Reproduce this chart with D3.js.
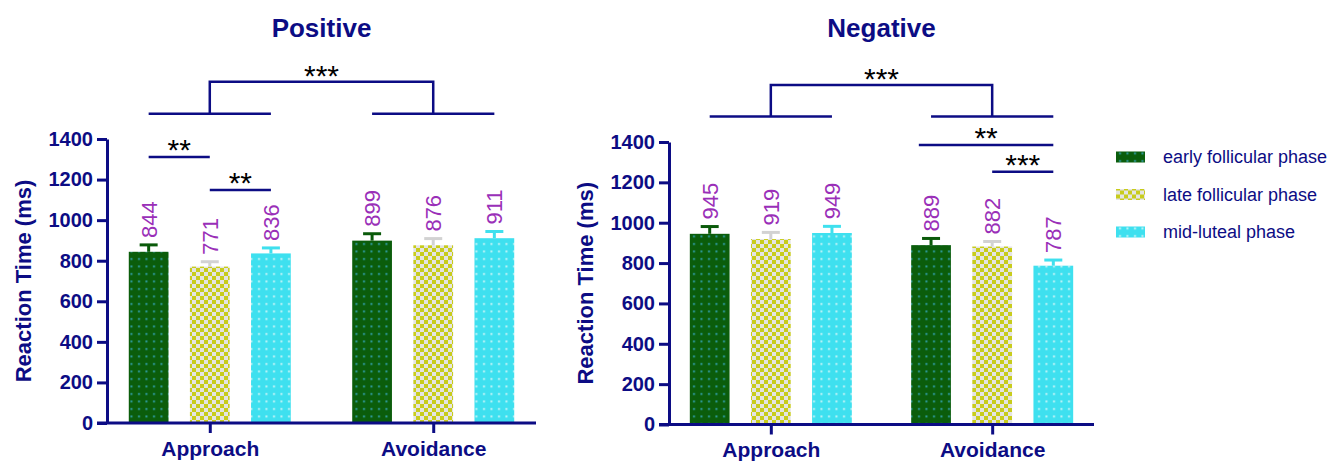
<!DOCTYPE html>
<html lang="en">
<head>
<meta charset="UTF-8">
<script src="https://d3js.org/d3.v7.min.js"></script>
<style>
  body { margin: 0; background: #fff; }
  svg { display: block; font-family: "Liberation Sans", Arial, sans-serif; }
</style>
</head>
<body>
<div id="chart"></div>
<script>
// data
const phases = ["early follicular phase", "late follicular phase", "mid-luteal phase"];
const conditions = ["Approach", "Avoidance"];
const yTicks = [0, 200, 400, 600, 800, 1000, 1200, 1400];

const positiveMeans = [[844, 771, 836], [899, 876, 911]];
const positiveErr   = [[34, 24, 27], [34, 33, 33]];
const negativeMeans = [[945, 919, 949], [889, 882, 787]];
const negativeErr   = [[36, 33, 33], [33, 25, 28]];

// significance brackets: from/to = [condition, phase position], level in ms
const positivePairs = [
  { from: [0, 0], to: [0, 1], level: 1311, label: "**" },
  { from: [0, 1], to: [0, 2], level: 1148, label: "**" }
];
const positiveMain = { level: 1524, top: 1682, label: "***" };
const negativePairs = [
  { from: [1, -0.2], to: [1, 2], level: 1385, label: "**" },
  { from: [1, 1], to: [1, 2], level: 1253, label: "***" }
];
const negativeMain = { level: 1526, top: 1683, label: "***" };

const navy = "#0c0c84";
const labelColor = "#9a2fb8";
const errColors = ["#0a5a0a", "#d2d2d2", "#3fe0ee"];
const patternIds = ["pat-early", "pat-late", "pat-mid"];

const W = 1335, H = 462;
const svg = d3.select("#chart").append("svg")
  .attr("width", W).attr("height", H);

// fill patterns
const defs = svg.append("defs");
const pEarly = defs.append("pattern").attr("id", "pat-early")
  .attr("patternUnits", "userSpaceOnUse").attr("width", 7.5).attr("height", 7.5);
pEarly.append("rect").attr("width", 7.5).attr("height", 7.5).attr("fill", "#0b5d0b");
pEarly.append("rect").attr("x", 3).attr("y", 3).attr("width", 2).attr("height", 2).attr("fill", "#2f9a9e");

const pLate = defs.append("pattern").attr("id", "pat-late")
  .attr("patternUnits", "userSpaceOnUse").attr("width", 8).attr("height", 8);
pLate.append("rect").attr("width", 8).attr("height", 8).attr("fill", "#e4e4e4");
pLate.append("rect").attr("width", 4).attr("height", 4).attr("fill", "#c8cc1c");
pLate.append("rect").attr("x", 4).attr("y", 4).attr("width", 4).attr("height", 4).attr("fill", "#c8cc1c");

const pMid = defs.append("pattern").attr("id", "pat-mid")
  .attr("patternUnits", "userSpaceOnUse").attr("width", 7.5).attr("height", 7.5);
pMid.append("rect").attr("width", 7.5).attr("height", 7.5).attr("fill", "#3ee0ef");
pMid.append("rect").attr("x", 3).attr("y", 3).attr("width", 2).attr("height", 2).attr("fill", "#bff3f7");

const panels = [
  { title: "Positive", means: positiveMeans, err: positiveErr, pairs: positivePairs, main: positiveMain,
    x0: 107, x1: 536, yZero: 423, yTop: 139 },
  { title: "Negative", means: negativeMeans, err: negativeErr, pairs: negativePairs, main: negativeMain,
    x0: 669, x1: 1094, yZero: 424.5, yTop: 142 }
];

panels.forEach(p => {
  const g = svg.append("g");

  const x = d3.scalePoint().domain(conditions).range([p.x0, p.x1]).padding(0.46);
  const inner = d3.scaleBand().domain(d3.range(phases.length)).range([-81, 81]).paddingInner(0.35);
  const y = d3.scaleLinear().domain([0, 1400]).range([p.yZero, p.yTop]);

  const bw = inner.bandwidth();
  const cx = (c, i) => x(conditions[c]) + inner(0) + bw / 2 + i * inner.step();

  const rows = [];
  p.means.forEach((arr, c) => arr.forEach((v, i) => rows.push({ c, i, v, e: p.err[c][i] })));

  // bars
  g.selectAll("rect.bar").data(rows).join("rect")
    .attr("class", "bar")
    .attr("x", d => cx(d.c, d.i) - bw / 2)
    .attr("width", bw)
    .attr("y", d => y(d.v))
    .attr("height", d => y(0) - y(d.v))
    .attr("fill", d => `url(#${patternIds[d.i]})`);

  // error bars (upper only)
  const eb = g.selectAll("g.err").data(rows).join("g").attr("class", "err")
    .attr("stroke", d => errColors[d.i]).attr("stroke-width", 3);
  eb.append("line")
    .attr("x1", d => cx(d.c, d.i)).attr("x2", d => cx(d.c, d.i))
    .attr("y1", d => y(d.v)).attr("y2", d => y(d.v + d.e));
  eb.append("line")
    .attr("x1", d => cx(d.c, d.i) - 9).attr("x2", d => cx(d.c, d.i) + 9)
    .attr("y1", d => y(d.v + d.e)).attr("y2", d => y(d.v + d.e));

  // value labels
  g.selectAll("text.val").data(rows).join("text")
    .attr("class", "val")
    .attr("transform", d => `translate(${cx(d.c, d.i)},${y(d.v + d.e) - 7}) rotate(-90)`)
    .attr("dy", "0.36em")
    .attr("fill", labelColor)
    .style("font-size", "22px")
    .text(d => d.v);

  // axes
  const yAxis = g.append("g").attr("transform", `translate(${p.x0},0)`)
    .call(d3.axisLeft(y).tickValues(yTicks).tickFormat(d3.format("d"))
      .tickSize(10).tickSizeOuter(0).tickPadding(4));
  yAxis.selectAll("path, line").attr("stroke", navy).attr("stroke-width", 3);
  yAxis.selectAll("text").attr("fill", navy)
    .style("font-size", "20px").style("font-weight", "bold").style("font-family", "Liberation Sans, Arial, sans-serif");

  const xAxis = g.append("g").attr("transform", `translate(0,${y(0)})`)
    .call(d3.axisBottom(x).tickSize(10).tickSizeOuter(0).tickPadding(8));
  xAxis.select(".domain").attr("d", `M${p.x0 - 10},0H${p.x1}`);
  xAxis.selectAll("path, line").attr("stroke", navy).attr("stroke-width", 3);
  xAxis.selectAll("text").attr("fill", navy)
    .style("font-size", "21px").style("font-weight", "bold").style("font-family", "Liberation Sans, Arial, sans-serif");

  // axis title
  g.append("text")
    .attr("transform", `translate(${p.x0 - 84},${(y(0) + y(1400)) / 2}) rotate(-90)`)
    .attr("text-anchor", "middle").attr("dy", "0.36em")
    .attr("fill", navy).style("font-size", "22px").style("font-weight", "bold")
    .text("Reaction Time (ms)");

  // panel title
  g.append("text")
    .attr("x", (p.x0 + p.x1) / 2).attr("y", 37)
    .attr("text-anchor", "middle").attr("fill", navy)
    .style("font-size", "26px").style("font-weight", "bold")
    .text(p.title);

  // main effect bracket between conditions
  const br = g.append("g").attr("fill", "none").attr("stroke", navy).attr("stroke-width", 2.5);
  conditions.forEach((cond, c) => {
    br.append("line")
      .attr("x1", cx(c, 0)).attr("x2", cx(c, 2))
      .attr("y1", y(p.main.level)).attr("y2", y(p.main.level));
  });
  br.append("path")
    .attr("d", `M${x(conditions[0])},${y(p.main.level)}V${y(p.main.top)}H${x(conditions[1])}V${y(p.main.level)}`);
  g.append("text")
    .attr("x", (x(conditions[0]) + x(conditions[1])) / 2).attr("y", y(p.main.top) + 4)
    .attr("text-anchor", "middle").attr("fill", "#000").style("font-size", "30px")
    .text(p.main.label);

  // pairwise brackets
  p.pairs.forEach(s => {
    const xa = cx(s.from[0], s.from[1]), xb = cx(s.to[0], s.to[1]);
    br.append("line").attr("x1", xa).attr("x2", xb)
      .attr("y1", y(s.level)).attr("y2", y(s.level));
    g.append("text")
      .attr("x", (xa + xb) / 2).attr("y", y(s.level) + 3)
      .attr("text-anchor", "middle").attr("fill", "#000").style("font-size", "30px")
      .text(s.label);
  });
});

// legend
const legend = svg.append("g").attr("transform", "translate(1116,157)");
phases.forEach((ph, i) => {
  const row = legend.append("g").attr("transform", `translate(0,${i * 37.5})`);
  row.append("rect").attr("x", 0).attr("y", -5.5).attr("width", 29).attr("height", 11)
    .attr("fill", `url(#${patternIds[i]})`);
  row.append("text").attr("x", 47).attr("y", 6)
    .attr("fill", navy).style("font-size", "18px")
    .text(ph);
});
</script>
</body>
</html>
